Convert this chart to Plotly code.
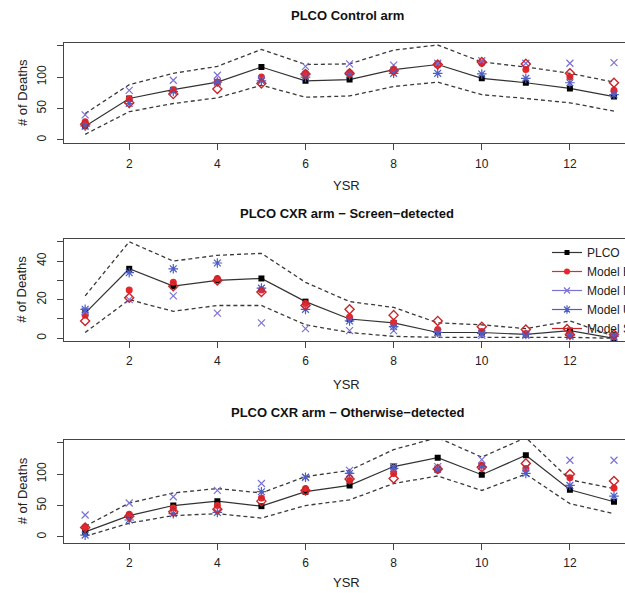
import plotly.graph_objects as go

# ---------------- data ----------------
YSR = list(range(1, 14))
X_TICKS = [2, 4, 6, 8, 10, 12]

PANEL_TITLES = [
    "PLCO Control arm",
    "PLCO CXR arm − Screen−detected",
    "PLCO CXR arm − Otherwise−detected",
]
SERIES_NAMES = ["PLCO", "Model E", "Model M", "Model U", "Model S"]

# Panel 1: PLCO Control arm
p1_plco = [22, 66, 80, 92, 116, 94, 96, 112, 120, 98, 91, 82, 69]
p1_upper = [42, 88, 106, 117, 144, 120, 121, 143, 151, 124, 116, 106, 92]
p1_lower = [9, 45, 58, 67, 87, 68, 70, 85, 92, 72, 66, 59, 46]
p1_E = [29, 65, 80, 92, 100, 106, 107, 112, 121, 122, 112, 100, 79]
p1_M = [40, 79, 95, 103, 96, 117, 121, 119, 122, 126, 122, 122, 123]
p1_U = [22, 58, 77, 92, 94, 100, 104, 106, 106, 105, 98, 91, 72]
p1_S = [25, 59, 73, 81, 90, 105, 106, 110, 120, 124, 121, 106, 91]

# Panel 2: CXR arm, screen-detected
p2_plco = [13, 36, 27, 30, 31, 19, 10, 8, 3, 3, 2, 4, 0]
p2_upper = [22, 50, 40, 43, 44, 29, 19, 16, 8, 7, 5, 9, 1]
p2_lower = [3, 20, 14, 17, 17, 7, 3, 1, 0.5, 0.5, 0.5, 0.5, 0]
p2_E = [12, 25, 29, 31, 25, 18, 11, 8, 4.5, 3.5, 2.5, 2, 1]
p2_M = [14, 20, 22, 13, 8, 5, 4, 4, 2, 1.5, 1.5, 1, 0.5]
p2_U = [15, 34, 36, 39, 26, 15, 9, 6, 3, 2.5, 2, 1.5, 1]
p2_S = [9, 21, 27, 30, 24, 17, 15, 12, 9, 6, 4.5, 2, 2]

# Panel 3: CXR arm, otherwise-detected
p3_plco = [8, 34, 50, 57, 49, 72, 82, 112, 126, 99, 130, 75, 56]
p3_upper = [17, 54, 70, 77, 70, 96, 106, 139, 158, 127, 158, 91, 77]
p3_lower = [1, 22, 34, 37, 30, 50, 59, 85, 97, 74, 100, 53, 37]
p3_E = [16, 36, 46, 50, 62, 77, 90, 101, 106, 114, 109, 94, 78]
p3_M = [35, 54, 64, 74, 85, 95, 106, 112, 112, 123, 110, 122, 122]
p3_U = [3, 27, 37, 39, 72, 95, 101, 109, 108, 112, 101, 82, 65]
p3_S = [15, 33, 40, 44, 57, 74, 92, 93, 108, 111, 117, 100, 89]

P1_YTICKS = [0, 50, 100, 150]
P1_YTEXT = ["0", "50", "100", ""]
P2_YTICKS = [0, 10, 20, 30, 40, 50]
P2_YTEXT = ["0", "", "20", "", "40", ""]

# ---------------- styling ----------------
W, H = 625, 593
ML = 64
FONT = "Liberation Sans, Arial, Helvetica, sans-serif"
AX_COLOR = "#444444"

STYLES = {
    "PLCO": dict(symbol="square", size=6, color="#000000", lw=0, line="#333333"),
    "Model E": dict(symbol="circle", size=7, color="#e8262a", lw=0, line="#e8262a"),
    "Model M": dict(symbol="x-thin-open", size=7, color="#7a72d8", lw=1.2, line="#7a72d8"),
    "Model U": dict(symbol="asterisk-open", size=8, color="#4d5ec6", lw=1.2, line="#4d5ec6"),
    "Model S": dict(symbol="diamond-open", size=7, color="#c8262c", lw=1.4, line="#c8262c"),
}

panels = [
    dict(plco=p1_plco, up=p1_upper, lo=p1_lower, models=[p1_E, p1_M, p1_U, p1_S],
         box=(42.7, 143.3), yrange=[-5.3, 154.7], yt=P1_YTICKS, ytt=P1_YTEXT,
         title_y=15, ysr_y=185),
    dict(plco=p2_plco, up=p2_upper, lo=p2_lower, models=[p2_E, p2_M, p2_U, p2_S],
         box=(238.5, 341.0), yrange=[-1.4, 51.7], yt=P2_YTICKS, ytt=P2_YTEXT,
         title_y=213, ysr_y=384),
    dict(plco=p3_plco, up=p3_upper, lo=p3_lower, models=[p3_E, p3_M, p3_U, p3_S],
         box=(439.7, 543.0), yrange=[-9.6, 154.7], yt=P1_YTICKS, ytt=P1_YTEXT,
         title_y=412, ysr_y=582),
]


def py(px):
    return 1 - px / H


def pxx(px):
    return (px - ML) / (W - ML)


fig = go.Figure()
annotations = []
layout = {}

for i, p in enumerate(panels):
    n = "" if i == 0 else str(i + 1)
    xa, ya = "x" + n, "y" + n
    # bounds
    for b in (p["up"], p["lo"]):
        fig.add_trace(go.Scatter(x=YSR, y=b, mode="lines", xaxis=xa, yaxis=ya,
                                 line=dict(color="#3a3a3a", width=1.3, dash="4px,3px"),
                                 showlegend=False, hoverinfo="skip", cliponaxis=True))
    # PLCO
    s = STYLES["PLCO"]
    fig.add_trace(go.Scatter(x=YSR, y=p["plco"], mode="lines+markers", xaxis=xa, yaxis=ya,
                             line=dict(color="#333333", width=1.2),
                             marker=dict(symbol=s["symbol"], size=s["size"], color=s["color"]),
                             showlegend=False, name="PLCO"))
    for name, vals in zip(SERIES_NAMES[1:], p["models"]):
        s = STYLES[name]
        fig.add_trace(go.Scatter(x=YSR, y=vals, mode="markers", xaxis=xa, yaxis=ya,
                                 marker=dict(symbol=s["symbol"], size=s["size"], color=s["color"],
                                             line=dict(color=s["color"], width=s["lw"])),
                                 showlegend=False, name=name))
    top, bot = p["box"]
    layout["xaxis" + n] = dict(
        domain=[0, 1], anchor=ya, range=[0.52, 13.25], tickvals=X_TICKS,
        ticks="outside", ticklen=6, tickcolor=AX_COLOR, showline=True, linecolor=AX_COLOR,
        linewidth=1, mirror=True, showgrid=False, zeroline=False,
        tickfont=dict(family=FONT, size=12, color="#222"), ticklabelstandoff=3)
    layout["yaxis" + n] = dict(
        domain=[py(bot), py(top)], anchor=xa, range=p["yrange"], tickvals=p["yt"],
        ticktext=p["ytt"], tickangle=-90, ticks="outside", ticklen=6, tickcolor=AX_COLOR,
        showline=True, linecolor=AX_COLOR, linewidth=1, mirror=False, showgrid=False,
        zeroline=False, tickfont=dict(family=FONT, size=12, color="#222"),
        ticklabelstandoff=6)
    annotations.append(dict(text="<b>%s</b>" % PANEL_TITLES[i], xref="paper", yref="paper",
                            x=pxx(347), y=py(p["title_y"]), showarrow=False,
                            xanchor="center", yanchor="middle",
                            font=dict(family=FONT, size=13, color="#111")))
    annotations.append(dict(text="YSR", xref="paper", yref="paper",
                            x=pxx(346), y=py(p["ysr_y"]), showarrow=False,
                            xanchor="center", yanchor="middle",
                            font=dict(family=FONT, size=13, color="#222")))
    annotations.append(dict(text="# of Deaths", xref="paper", yref="paper",
                            x=pxx(22), y=py((top + bot) / 2), showarrow=False, textangle=-90,
                            xanchor="center", yanchor="middle",
                            font=dict(family=FONT, size=13, color="#222")))

# legend entries (line + marker samples), shown in panel 2's legend
for name in SERIES_NAMES:
    s = STYLES[name]
    fig.add_trace(go.Scatter(x=[None], y=[None], mode="lines+markers", xaxis="x2", yaxis="y2",
                             name=name, line=dict(color=s["line"], width=1.2),
                             marker=dict(symbol=s["symbol"], size=s["size"] - 1, color=s["color"],
                                         line=dict(color=s["color"], width=s["lw"]))))

fig.update_layout(
    width=W, height=H, margin=dict(l=ML, r=0, t=0, b=0, autoexpand=False),
    paper_bgcolor="white", plot_bgcolor="white",
    font=dict(family=FONT, size=12, color="#222"),
    annotations=annotations,
    showlegend=True,
    legend=dict(x=pxx(547), y=py(238), xanchor="left", yanchor="top",
                bgcolor="rgba(0,0,0,0)", font=dict(family=FONT, size=12, color="#222"),
                traceorder="normal", borderwidth=0, tracegroupgap=0),
    **layout,
)

fig.write_html(
    "out.html",
    config={"displayModeBar": False},
    post_script="document.body.style.margin='0px';document.body.style.overflow='hidden';",
)
